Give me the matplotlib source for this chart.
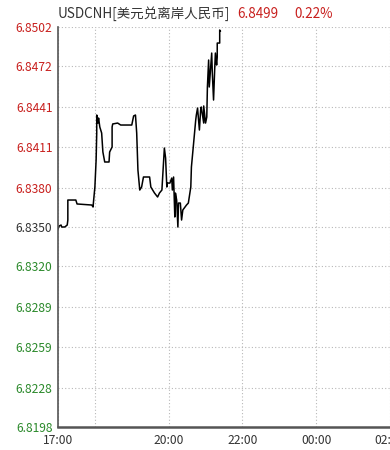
import matplotlib.pyplot as plt

plt.rcParams['font.family'] = ['Noto Sans CJK SC', 'DejaVu Sans']

# minutes after 17:00 and price
minutes = [0, 2, 5, 6, 11, 15, 16, 16, 29, 31, 55, 57, 58, 60, 62, 63, 63, 65, 66, 68,
           71, 73, 76, 83, 84, 88, 88, 89, 97, 102, 120, 123, 126, 128, 130, 133, 136,
           139, 149, 151, 154, 157, 162, 165, 169, 173, 175, 177, 178, 182, 185, 186,
           188, 190, 191, 193, 195, 196, 199, 201, 203, 209, 212, 216, 217, 220, 224,
           225, 227, 230, 232, 233, 237, 237, 240, 242, 243, 245, 246, 250, 251, 253,
           255, 256, 258, 259, 259, 263, 263, 264]
prices = [6.83485, 6.83508, 6.83515, 6.83500, 6.83500, 6.83515, 6.83553, 6.83705,
          6.83705, 6.83675, 6.83667, 6.83652, 6.83705, 6.83804, 6.84009, 6.84214,
          6.84351, 6.84290, 6.84328, 6.84260, 6.84214, 6.84070, 6.83994, 6.83994,
          6.84070, 6.84108, 6.84260, 6.84283, 6.84290, 6.84275, 6.84275, 6.84344,
          6.84351, 6.84214, 6.83933, 6.83781, 6.83804, 6.83880, 6.83880, 6.83804,
          6.83781, 6.83758, 6.83728, 6.83758, 6.83781, 6.84100, 6.84024, 6.83804,
          6.83834, 6.83834, 6.83872, 6.83781, 6.83880, 6.83576, 6.83758, 6.83705,
          6.83500, 6.83682, 6.83682, 6.83553, 6.83629, 6.83667, 6.83682, 6.83804,
          6.83956, 6.84108, 6.84313, 6.84351, 6.84404, 6.84237, 6.84389, 6.84412,
          6.84290, 6.84420, 6.84290, 6.84336, 6.84564, 6.84769, 6.84564, 6.84822,
          6.84670, 6.84465, 6.84716, 6.84822, 6.84731, 6.84792, 6.84898, 6.84898,
          6.84997, 6.8499]

prev_close = 6.8350
y_ticks = [6.8198, 6.8228, 6.8259, 6.8289, 6.8320, 6.8350,
           6.8380, 6.8411, 6.8441, 6.8472, 6.8502]
x_ticks = [0, 60, 180, 300, 420, 540]
x_labels = ['17:00', '', '20:00', '22:00', '00:00', '02:00']

title_name = 'USDCNH[美元兑离岸人民币]'
last_price = '6.8499'
change_pct = '0.22%'

red = '#c8201e'
green = '#2c8a2c'

fig = plt.figure(figsize=(3.9, 4.5), dpi=100)
ax = fig.add_axes([58 / 390, 1 - 427 / 450, 332 / 390, 400 / 450])

ax.plot(minutes, prices, color='black', lw=1.1)

ax.set_xlim(0, 540)
ax.set_ylim(6.8198, 6.8502)
ax.set_yticks(y_ticks)
ax.set_yticklabels([f'{v:.4f}' for v in y_ticks], fontsize=8.7)
for lbl, v in zip(ax.get_yticklabels(), y_ticks):
    if v > prev_close + 1e-6:
        lbl.set_color(red)
    elif v < prev_close - 1e-6:
        lbl.set_color(green)
    else:
        lbl.set_color('#333333')
ax.set_xticks(x_ticks)
ax.set_xticklabels(x_labels, fontsize=8.7, color='#333333')
ax.tick_params(axis='y', length=0, pad=4)
ax.tick_params(axis='x', length=0, pad=5)

ax.grid(True, linestyle=(0, (1, 2)), color='#b8b8b8', lw=0.8)
for side in ['top', 'right']:
    ax.spines[side].set_visible(False)
ax.spines['left'].set_color('#555555')
ax.spines['left'].set_linewidth(1.2)
ax.spines['bottom'].set_color('#555555')
ax.spines['bottom'].set_linewidth(1.8)

fig.text(58 / 390, 1 - 14 / 450, title_name, fontsize=9.7, color='#333333', va='center')
fig.text(237 / 390, 1 - 14 / 450, last_price, fontsize=9.7, color=red, va='center')
fig.text(294 / 390, 1 - 14 / 450, change_pct, fontsize=9.7, color=red, va='center')

fig.savefig('out.png', dpi=100)
